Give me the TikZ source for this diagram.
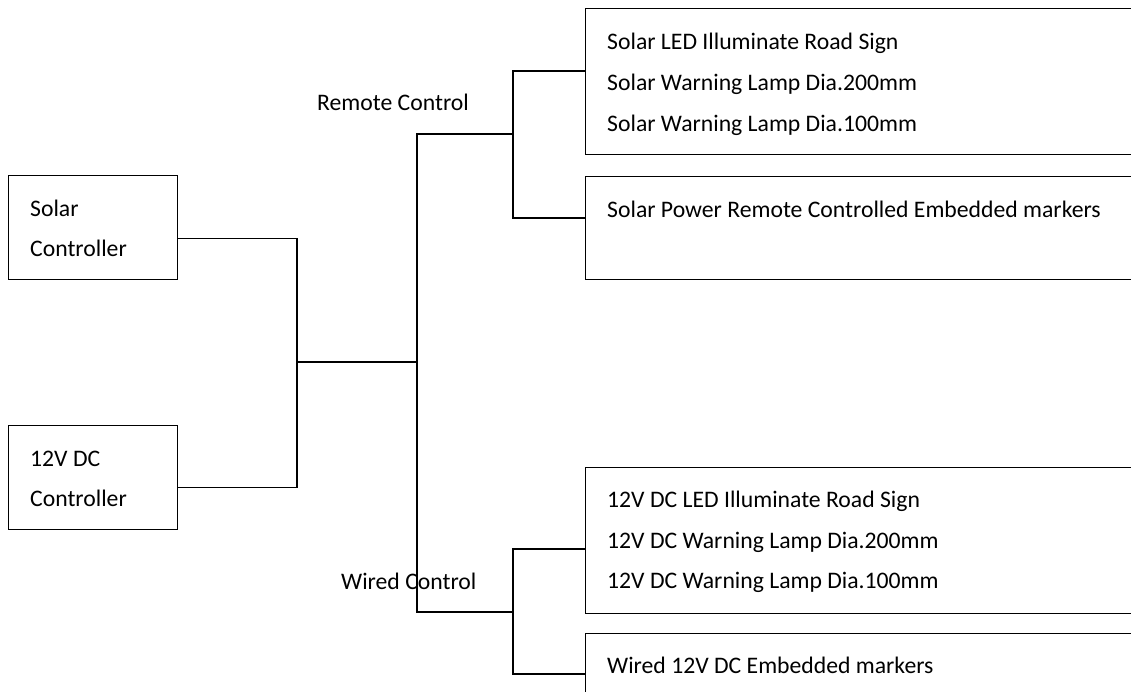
\documentclass[tikz,border=0pt]{standalone}
\usepackage{fontspec}
\setmainfont{Carlito}
\usepackage{tikz}
\usetikzlibrary{positioning}

\begin{document}
\begin{tikzpicture}[
  x=1pt,y=-1pt,
  font=\fontsize{23.7}{28}\selectfont,
  box/.style={draw,line width=1.3pt,inner sep=0pt,anchor=north west},
  txt/.style={anchor=base west,inner sep=0pt},
  wire/.style={line width=1.3pt}
]
\useasboundingbox (0,0) rectangle (1131,691);

% ---- controllers (left) ----
\node[box,minimum width=169pt,minimum height=104pt] (solar) at (8,175) {};
\node[box,minimum width=169pt,minimum height=104pt] (dc)    at (8,425) {};
\node[txt] (solar1) at ([xshift=22pt,yshift=-41pt]solar.north west) {Solar};
\node[txt] (solar2) at ([xshift=22pt,yshift=-81pt]solar.north west) {Controller};
\node[txt] (dc1) at ([xshift=22pt,yshift=-41pt]dc.north west) {12V DC};
\node[txt] (dc2) at ([xshift=22pt,yshift=-81pt]dc.north west) {Controller};

% ---- products (right, cut off by the page edge) ----
\node[box,minimum width=600pt,minimum height=146pt] (signs)     at (585,8)   {};
\node[box,minimum width=600pt,minimum height=103pt] (markers)   at (585,176) {};
\node[box,minimum width=600pt,minimum height=146pt] (dcsigns)   at (585,467) {};
\node[box,minimum width=600pt,minimum height=120pt] (dcmarkers) at (585,633) {};

\node[txt] (signs1) at ([xshift=22pt,yshift=-41pt]signs.north west)  {Solar LED Illuminate Road Sign};
\node[txt] (signs2) at ([xshift=22pt,yshift=-82pt]signs.north west)  {Solar Warning Lamp Dia.200mm};
\node[txt] (signs3) at ([xshift=22pt,yshift=-123pt]signs.north west) {Solar Warning Lamp Dia.100mm};
\node[txt] (markers1) at ([xshift=22pt,yshift=-41pt]markers.north west) {Solar Power Remote Controlled Embedded markers};

\node[txt] (dcsigns1) at ([xshift=22pt,yshift=-40pt]dcsigns.north west)  {12V DC LED Illuminate Road Sign};
\node[txt] (dcsigns2) at ([xshift=22pt,yshift=-81pt]dcsigns.north west)  {12V DC Warning Lamp Dia.200mm};
\node[txt] (dcsigns3) at ([xshift=22pt,yshift=-121pt]dcsigns.north west) {12V DC Warning Lamp Dia.100mm};
\node[txt] (dcmarkers1) at ([xshift=22pt,yshift=-40pt]dcmarkers.north west) {Wired 12V DC Embedded markers};

% ---- branch labels ----
\node[txt] (remote) at (317,110) {Remote Control};
\node[txt] (wired)  at (341,589) {Wired Control};

% ---- wiring ----
\coordinate (j1) at (297,362);
\coordinate (j2) at (417,362);
\coordinate (rb) at (513,134);
\coordinate (wb) at (513,612);
\draw[wire] ([yshift=-11pt]solar.east) -| (j1) |- ([yshift=-10pt]dc.east);
\draw[wire] (j1) -- (j2);
\draw[wire] (rb) -| (j2) |- (wb);
\draw[wire] ([yshift=-63pt]signs.north west) -| (rb) |- ([yshift=-42pt]markers.north west);
\draw[wire] ([yshift=-82pt]dcsigns.north west) -| (wb) |- ([yshift=-41pt]dcmarkers.north west);
\end{tikzpicture}
\end{document}
